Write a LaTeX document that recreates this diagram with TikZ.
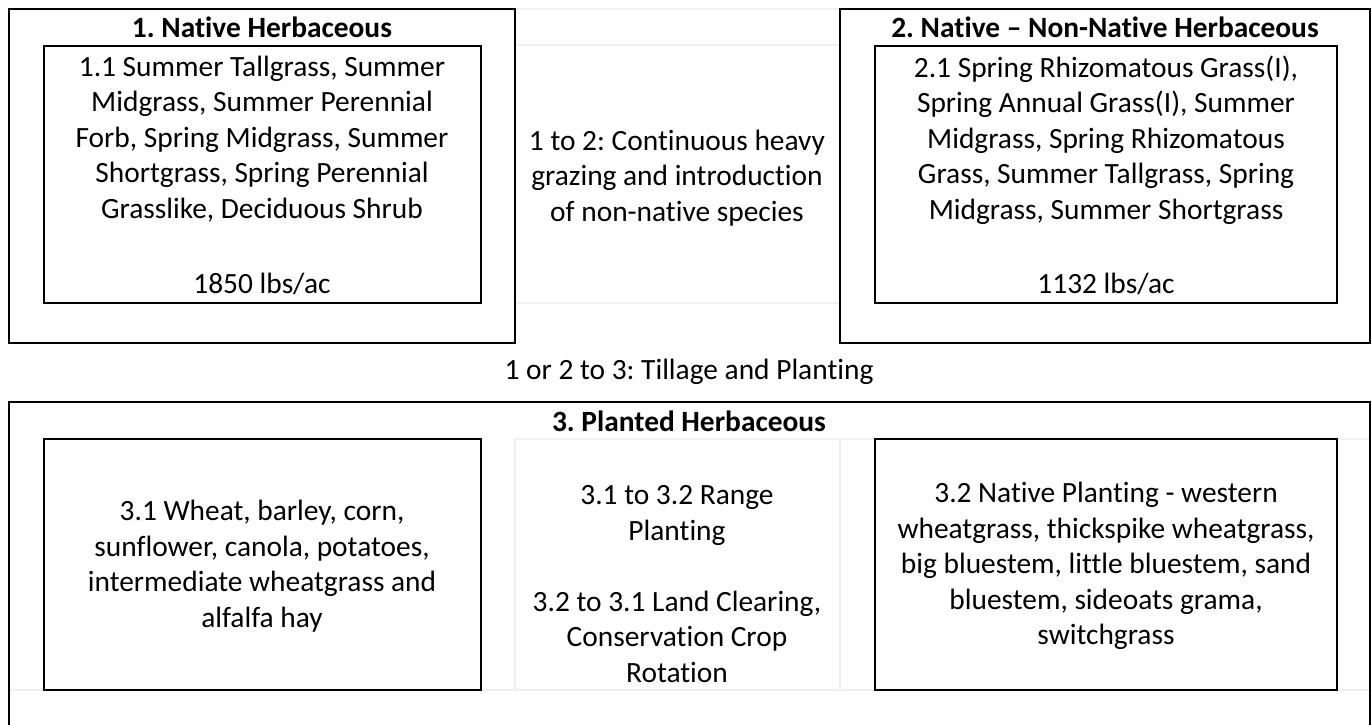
\documentclass[tikz,border=0pt]{standalone}
\usepackage{fontspec}
\setmainfont{Carlito}[Ligatures=CommonOff]
\usetikzlibrary{positioning}
\frenchspacing

\tikzset{
  statebox/.style={draw,line width=2pt,anchor=north west,inner sep=0pt,outer sep=0pt},
  cellline/.style={draw=black!6,line width=2pt},
  statetitle/.style={font=\fontsize{29.4}{35.5}\selectfont\bfseries,inner sep=0pt},
  boxtext/.style={font=\fontsize{29.4}{35.5}\selectfont,align=center,inner sep=0pt},
}

\begin{document}
\begin{tikzpicture}[x=1pt,y=-1pt]
  \clip (0,0) rectangle (1372,724);

  % faint table rules
  \draw[cellline] (515,9) -- (840,9);
  \draw[cellline] (515,45) -- (840,45);
  \draw[cellline] (515,303) -- (840,303);
  \draw[cellline] (515,690) -- (515,439) -- (1370,439);
  \draw[cellline] (840,439) -- (840,690);
  \draw[cellline] (9,690) -- (1370,690);

  % State 1
  \node[statebox,minimum width=506pt,minimum height=334pt] (s1) at (9,9) {};
  \node[statetitle] (s1title) at (262,27) {1. Native Herbaceous};
  \node[statebox,minimum width=437pt,minimum height=257pt] (p11) at (44,46) {};
  \node[boxtext] (p11text) at (262,139) {1.1 Summer Tallgrass, Summer\\
    Midgrass, Summer Perennial\\ Forb, Spring Midgrass, Summer\\
    Shortgrass, Spring Perennial\\ Grasslike, Deciduous Shrub};
  \node[boxtext] (p11prod) at (262,284) {1850 lbs/ac};

  % 1 to 2
  \node[boxtext] (t12) at (677,178) {1 to 2: Continuous heavy\\
    grazing and introduction\\ of non-native species};

  % State 2
  \node[statebox,minimum width=530pt,minimum height=334pt] (s2) at (840,9) {};
  \node[statetitle] (s2title) at (1105,27) {2. Native -- Non-Native Herbaceous};
  \node[statebox,minimum width=462pt,minimum height=257pt] (p21) at (875,46) {};
  \node[boxtext] (p21text) at (1106,140) {2.1 Spring Rhizomatous Grass(I),\\
    Spring Annual Grass(I), Summer\\ Midgrass, Spring Rhizomatous\\
    Grass, Summer Tallgrass, Spring\\ Midgrass, Summer Shortgrass};
  \node[boxtext] (p21prod) at (1106,284) {1132 lbs/ac};

  % 1 or 2 to 3
  \node[boxtext] (t3) at (689,372) {1 or 2 to 3: Tillage and Planting};

  % State 3
  \node[statebox,minimum width=1361pt,minimum height=400pt] (s3) at (9,402) {};
  \node[statetitle] (s3title) at (689,421) {3. Planted Herbaceous};
  \node[statebox,minimum width=437pt,minimum height=251pt] (p31) at (44,439) {};
  \node[boxtext] (p31text) at (262,566) {3.1 Wheat, barley, corn,\\
    sunflower, canola, potatoes,\\ intermediate wheatgrass and\\ alfalfa hay};
  \node[boxtext] (t3132) at (677,584) {3.1 to 3.2 Range\\ Planting\\[35.5pt]
    3.2 to 3.1 Land Clearing,\\ Conservation Crop\\ Rotation};
  \node[statebox,minimum width=462pt,minimum height=251pt] (p32) at (875,439) {};
  \node[boxtext] (p32text) at (1106,566) {3.2 Native Planting - western\\
    wheatgrass, thickspike wheatgrass,\\ big bluestem, little bluestem, sand\\
    bluestem, sideoats grama,\\ switchgrass};
\end{tikzpicture}
\end{document}
